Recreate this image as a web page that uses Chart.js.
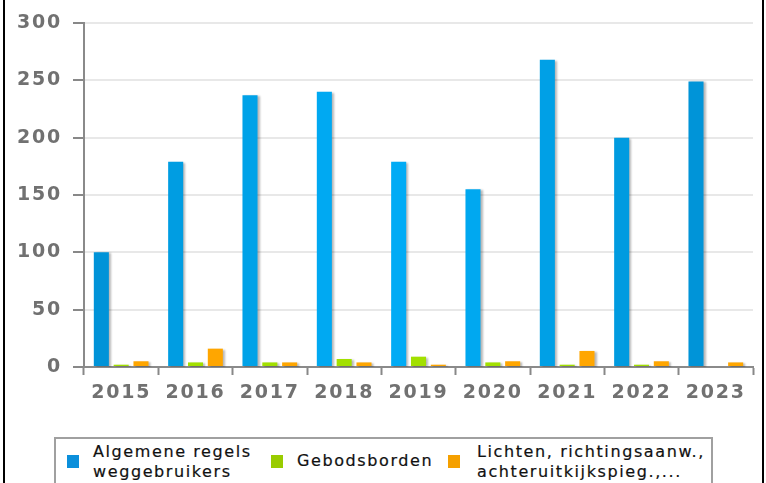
<!DOCTYPE html>
<html>
<head>
<meta charset="utf-8">
<script src="https://cdn.jsdelivr.net/npm/chart.js@4/dist/chart.umd.min.js"></script>
<style>
  html, body { margin: 0; padding: 0; background: #fff; }
  body { width: 766px; height: 483px; position: relative; overflow: hidden; font-family: "DejaVu Sans", sans-serif; }
  #frame { position: absolute; left: 3px; top: -10px; width: 757px; height: 520px; border-left: 2px solid #000; border-right: 2px solid #000; }
  #wrap { position: absolute; left: 0; top: 0; width: 766px; height: 420px; }
  #legend { position: absolute; left: 54px; top: 437px; width: 655px; height: 70px; border: 2px solid #a0a0a0; border-bottom: none; }
  .sw { position: absolute; width: 12px; height: 13px; }
  .lt { position: absolute; font-size: 16px; line-height: 20px; letter-spacing: 1.6px; color: #111; white-space: nowrap; -webkit-text-stroke: 0.2px #111; }
</style>
</head>
<body>
<div id="frame"></div>
<div id="wrap"><canvas id="c" width="766" height="420"></canvas></div>
<div id="legend"></div>
<script>
const categories = ['2015', '2016', '2017', '2018', '2019', '2020', '2021', '2022', '2023'];
const seriesNames = [
  ['Algemene regels', 'weggebruikers'],
  ['Gebodsborden'],
  ['Lichten, richtingsaanw.,', 'achteruitkijkspieg.,...']
];
const algemeneRegels = [100, 179, 237, 240, 179, 155, 268, 200, 249];
const gebodsborden = [2, 4, 4, 7, 9, 4, 2, 2, 0];
const lichten = [5, 16, 4, 4, 2, 5, 14, 5, 4];
const yTicks = [0, 50, 100, 150, 200, 250, 300];

const blueShades = ['#0093d8', '#009de2', '#00a2e8', '#00a9f2', '#00abf5', '#00a8f0', '#00a0e6', '#009be0', '#0094d8'];
const greenColor = '#a2e000';
const orangeColor = '#ffa600';
const legendColors = ['#0b8fdb', '#99cc00', '#f5a000'];

const tickFont = { family: 'DejaVu Sans', size: 19, weight: 'bold' };

const spacingPlugin = {
  id: 'spacing',
  beforeLayout(chart) { chart.ctx.letterSpacing = '1.8px'; },
  beforeDraw(chart) { chart.ctx.letterSpacing = '1.8px'; },
  beforeDatasetsDraw(chart) {
    const ctx = chart.ctx;
    ctx.save();
    ctx.shadowColor = 'rgba(0,0,0,0.28)';
    ctx.shadowOffsetX = 2;
    ctx.shadowOffsetY = 1;
    ctx.shadowBlur = 2;
  },
  afterDatasetsDraw(chart) { chart.ctx.restore(); }
};

new Chart(document.getElementById('c'), {
  type: 'bar',
  data: {
    labels: categories,
    datasets: [
      { label: seriesNames[0].join(' '), data: algemeneRegels, backgroundColor: blueShades },
      { label: seriesNames[1].join(' '), data: gebodsborden, backgroundColor: greenColor },
      { label: seriesNames[2].join(' '), data: lichten, backgroundColor: orangeColor }
    ]
  },
  options: {
    responsive: false,
    animation: false,
    devicePixelRatio: 1,
    layout: { padding: { top: 23, right: 13, left: 0, bottom: 0 } },
    datasets: { bar: { barPercentage: 0.76, categoryPercentage: 0.8 } },
    plugins: { legend: { display: false }, tooltip: { enabled: false } },
    scales: {
      x: {
        grid: { display: true, drawOnChartArea: false, offset: true, tickLength: 8, tickColor: '#888', tickWidth: 2 },
        border: { display: true, color: '#8a8a8a', width: 2 },
        ticks: { color: '#717171', font: tickFont, padding: 7, maxRotation: 0, autoSkip: false },
        afterFit(s) { s.height = 53; }
      },
      y: {
        min: 0, max: 300,
        afterBuildTicks(s) { s.ticks = yTicks.map(v => ({ value: v })); },
        grid: { color: '#e8e8e8', lineWidth: 2, tickLength: 11, tickColor: '#888', tickWidth: 2 },
        border: { display: true, color: '#8a8a8a', width: 2 },
        ticks: { color: '#717171', font: tickFont, padding: 11 },
        afterFit(s) { s.width = 84; }
      }
    }
  },
  plugins: [spacingPlugin]
});

// HTML legend built from the series names
const legend = document.getElementById('legend');
const swX = [11, 215, 392];
const txX = [37, 241, 421];
seriesNames.forEach((lines, i) => {
  const sw = document.createElement('div');
  sw.className = 'sw';
  sw.style.left = swX[i] + 'px';
  sw.style.top = '16px';
  sw.style.background = legendColors[i];
  legend.appendChild(sw);
  const t = document.createElement('div');
  t.className = 'lt';
  t.style.left = txX[i] + 'px';
  t.style.top = (lines.length === 2 ? 3 : 12) + 'px';
  t.innerHTML = lines.map(l => l.replace(/&/g, '&amp;')).join('<br>');
  legend.appendChild(t);
});
</script>
</body>
</html>
